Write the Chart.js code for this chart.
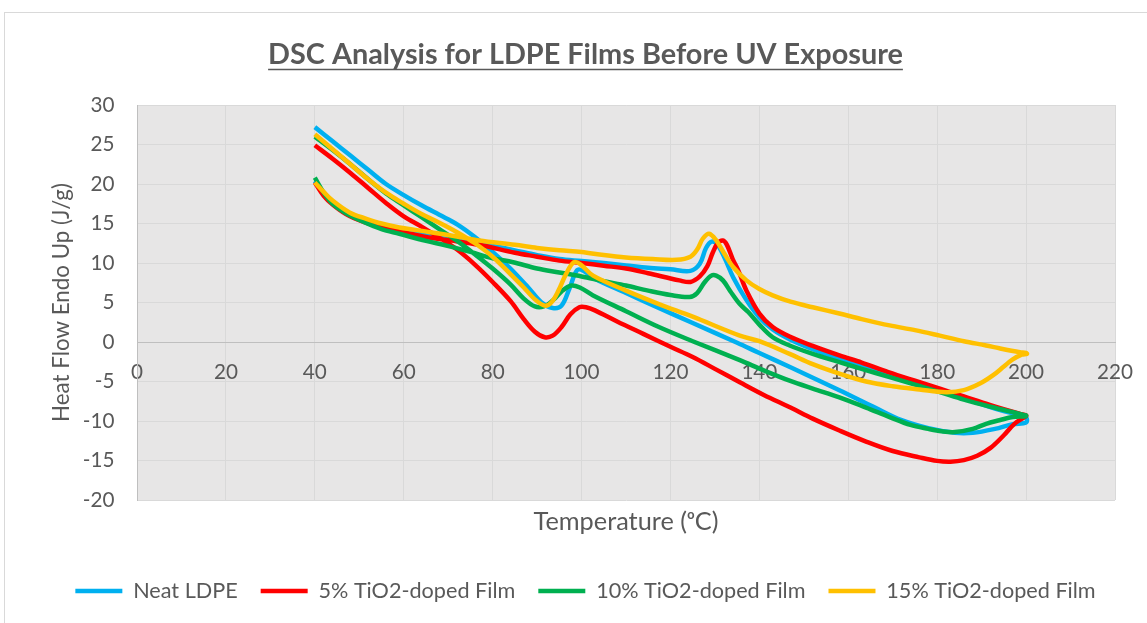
<!DOCTYPE html>
<html><head><meta charset="utf-8">
<script src="https://cdn.jsdelivr.net/npm/chart.js@4.4.1/dist/chart.umd.min.js"></script>
<style>
html,body{margin:0;padding:0;background:#fff;overflow:hidden;width:1147px;height:623px;}
#frame{position:absolute;left:4px;top:12px;width:1200px;height:700px;border:1px solid #d9d9d9;box-sizing:border-box;}
#c{position:absolute;left:0;top:0;}
</style></head><body>
<div id="frame"></div>
<canvas id="c" width="1147" height="623"></canvas>
<script>
// ---------- DATA ----------
const seriesNames = ['Neat LDPE', '5% TiO2-doped Film', '10% TiO2-doped Film', '15% TiO2-doped Film'];
const chartTitle = 'DSC Analysis for LDPE Films Before UV Exposure';
const xAxisTitle = 'Temperature (\u1D52C)';
const yAxisTitle = 'Heat Flow Endo Up (J/g)';
const xRange = [0, 220];
const xStep = 20;
const yRange = [-20, 30];
const yStep = 5;

// Neat LDPE: loop 40 -> 200 -> 40
const neatTemp = [40,44,48,52,56,60,64,68,72,76,80,84,88,91,93.5,95.5,97.3,99,100.5,103,110,117,125,135,140,147,158,166,172,178,184,188,193,197,200,
  200,194,188,180.6,175,169,163,158,152,147,143,140,137.1,134.1,132.3,130.6,129.3,128,126.6,124.5,120,115,110,105,100,95,90,85,80,75,70,65,60,55,51,47,44,42,40];
const neatHeat = [27.2,25.4,23.6,21.8,20.0,18.6,17.3,16.1,14.9,13.3,11.4,9.3,6.9,5.0,4.3,4.6,6.8,9.1,9.0,8.0,6.2,4.4,2.4,-0.1,-1.4,-3.2,-6.1,-8.3,-9.9,-10.9,-11.5,-11.5,-11.0,-10.4,-10.2,
  -9.6,-8.6,-7.5,-6.1,-5.1,-4.2,-3.0,-2.1,-0.9,0.3,1.6,3.1,5.3,8.2,10.5,12.3,12.7,11.9,9.9,9.0,9.2,9.4,9.7,10.0,10.25,10.5,11.0,11.6,12.2,12.6,13.0,13.5,14.0,14.6,15.3,16.3,17.6,18.8,20.4];

// 5% TiO2
const tio5Temp = [40,44,48,52,56,60,64,68,72,76,80,84,87,89.5,91.7,93.5,95.5,97.5,99.5,101,103,108,114,120,125,130,135.6,141,147,152,158,164,170,176,180,183,186,189,192,195,197.5,200,
  200,198.6,192,186,180.6,175,169,163,158,152,146.8,143,140,137.1,135.3,134,132.7,131.8,130.6,129.5,128.3,126.6,124.5,122,115,110,105,100,95,90,85,77,70,65,60,55,51,47,44,42,40];
const tio5Heat = [24.9,23.2,21.4,19.5,17.6,15.9,14.6,13.2,11.7,9.8,7.6,5.2,2.9,1.3,0.6,0.8,1.9,3.5,4.4,4.4,4.0,2.6,1.0,-0.6,-1.9,-3.4,-5.1,-6.7,-8.3,-9.7,-11.2,-12.6,-13.8,-14.6,-15.05,-15.15,-14.95,-14.4,-13.4,-11.8,-10.3,-9.4,
  -9.3,-9.1,-8.0,-6.9,-5.9,-4.9,-3.8,-2.6,-1.7,-0.5,0.7,1.9,3.6,6.5,9.0,10.5,12.3,12.85,12.5,11.3,9.6,8.3,7.6,7.8,8.7,9.3,9.65,10.0,10.3,10.8,11.3,12.3,12.9,13.3,13.9,14.5,15.2,16.2,17.4,18.5,20.2];

// 10% TiO2
const tio10Temp = [40,44,48,52,56,60,64,68,72,76,80,84,87,89.5,91.5,93.6,95.5,97.7,99.6,102.6,110,117.4,125,135.6,141,146.8,152,158,164,169.3,174,178,181,184,188,191,194,197,200,
  200,198.6,192,186,180.6,175,169.3,163,158,152,146.8,143,140,137.5,135.6,133.5,131.8,130.3,129.2,127.6,126,124.3,120,115,110,105,100,95,90,84.6,80,75,69.6,65,59,55,51,47,44,42,40];
const tio10Heat = [26.0,24.3,22.5,20.6,18.8,17.3,15.8,14.3,12.8,11.1,9.3,7.3,5.5,4.5,4.5,5.3,6.4,7.15,6.9,5.9,3.9,1.9,0.1,-2.3,-3.6,-4.9,-5.9,-7.0,-8.3,-9.5,-10.5,-11.0,-11.3,-11.4,-11.0,-10.35,-9.9,-9.5,-9.4,
  -9.3,-9.1,-8.2,-7.3,-6.35,-5.4,-4.45,-3.4,-2.55,-1.5,-0.44,0.6,2.2,3.8,4.8,6.4,7.8,8.4,8.4,7.5,6.2,5.7,5.95,6.5,7.15,7.7,8.3,8.8,9.3,10.1,10.6,11.4,12.2,12.8,13.7,14.3,15.2,16.3,17.5,18.9,20.8];

// 15% TiO2
const tio15Temp = [40,44,48,52,56,60,64,68,72,76,80,84,87,89.5,91.7,93.2,94.8,96.5,98.3,99.8,102.6,110,117.4,125,135.6,140,146.8,152,158,164,170,176,182,186,189.5,192.6,195,197,199,200.2,
  200,198.6,194,191,186,180.6,175,169.3,163,158,152,147,143,140,137.1,134.1,132,130.3,128.7,127.3,126,124.5,121.4,116,110,105,100,95,90,85,77,72.6,66,59,55,51.6,47.8,44,42,40];
const tio15Heat = [26.3,24.4,22.5,20.6,18.9,17.5,16.2,15.1,13.9,12.5,10.8,8.6,6.9,5.4,4.6,5.0,6.5,8.6,10.1,9.8,8.4,6.5,4.8,3.2,0.8,0.1,-1.5,-2.8,-4.0,-5.0,-5.6,-6.0,-6.35,-6.1,-5.3,-4.2,-3.1,-2.2,-1.6,-1.5,
  -1.4,-1.3,-0.8,-0.44,0.1,0.8,1.5,2.1,2.9,3.6,4.4,5.1,5.9,6.7,7.8,9.5,11.3,12.85,13.7,13.1,11.7,10.8,10.4,10.5,10.7,11.0,11.4,11.6,11.9,12.3,12.85,13.3,13.9,14.5,15.0,15.6,16.4,17.9,19.0,20.2];

// ---------- STYLE ----------
const seriesColors = ['#00B0F0', '#FF0000', '#00B050', '#FFC000'];
const TXT = '#595959';
const GRID = '#D9D9D9';
const AXIS = '#BFBFBF';
const PLOT_BG = '#E7E6E6';
const FAMILY = "Lato, 'DejaVu Sans', sans-serif";

const mctx = document.createElement('canvas').getContext('2d');
function fitSize(text, weight, target) {
  mctx.font = (weight ? weight + ' ' : '') + '100px ' + FAMILY;
  return 100 * target / mctx.measureText(text).width;
}
const titleSize = fitSize(chartTitle, 'bold', 635);
const yTitleSize = fitSize(yAxisTitle, '', 239);
const xTitleSize = fitSize(xAxisTitle, '', 185);
const legendSize = fitSize('5% TiO2-doped Film', '', 197);
const tickSize = fitSize('200', '', 36);

// layout targets (pixels)
const padLeft = 24;
const plotLeft = 137, plotRight = 1115, plotTop = 105, plotBottom = 499;
const titleCenterY = 55;
const legendCenterY = 591, legendPad = 24;
const tLH = titleSize * 1.2;
const titlePadTop = titleCenterY - tLH / 2;
const titlePadBottom = plotTop - titleCenterY - tLH / 2;
const legendH = legendSize + legendPad + 10;
const legendTop = legendCenterY - legendPad - legendSize / 2;
const bottomPad = 623 - (legendTop + legendH);
const x2H = legendTop - plotBottom;
const xTitleCenterY = 521;
const xTitlePadBottom = legendTop - xTitleCenterY - xTitleSize * 1.2 / 2;
const yTitleCenterX = 62;
const yTitlePadTop = yTitleCenterX - padLeft - yTitleSize * 1.2 / 2;
const zeroY = plotTop + (plotBottom - plotTop) * 30 / 50;
const xTickPad = 372 - zeroY - tickSize * 1.2 / 2;

function pts(t, h) { return t.map((x, i) => ({x: x, y: h[i]})); }
const temps = [neatTemp, tio5Temp, tio10Temp, tio15Temp];
const heats = [neatHeat, tio5Heat, tio10Heat, tio15Heat];

const datasets = seriesNames.map((name, i) => ({
  label: name,
  data: pts(temps[i], heats[i]),
  borderColor: seriesColors[i],
  backgroundColor: seriesColors[i],
  borderWidth: 4.5,
  pointRadius: 0,
  pointHoverRadius: 0,
  showLine: true,
  tension: 0.35,
  fill: false,
  order: seriesNames.length - i
}));

const bgPlugin = {
  id: 'plotBg',
  beforeDraw(chart) {
    const a = chart.chartArea, c = chart.ctx;
    c.save(); c.fillStyle = PLOT_BG; c.fillRect(a.left, a.top, a.right - a.left, a.bottom - a.top); c.restore();
  }
};
const underlinePlugin = {
  id: 'titleUnderline',
  afterDraw(chart) {
    const tb = chart.titleBlock; if (!tb) return;
    const c = chart.ctx;
    c.save();
    c.font = 'bold ' + titleSize + 'px ' + FAMILY;
    const w = c.measureText(chartTitle).width;
    const cx = (tb.left + tb.right) / 2;
    const cy = tb.top + titlePadTop + tLH / 2;
    const y = cy + titleSize * 0.5;
    c.strokeStyle = TXT; c.lineWidth = 1.6;
    c.beginPath(); c.moveTo(cx - w / 2, y); c.lineTo(cx + w / 2, y); c.stroke();
    c.restore();
  }
};

new Chart(document.getElementById('c'), {
  type: 'scatter',
  data: { datasets: datasets },
  options: {
    responsive: false,
    animation: false,
    devicePixelRatio: 1,
    events: [],
    layout: { padding: { left: padLeft, top: 0, right: 0, bottom: bottomPad } },
    plugins: {
      title: { display: true, text: chartTitle, color: TXT,
        font: { family: FAMILY, size: titleSize, weight: 'bold', lineHeight: 1.2 },
        padding: { top: titlePadTop, bottom: titlePadBottom } },
      legend: { position: 'bottom',
        labels: { color: TXT, font: { family: FAMILY, size: legendSize }, usePointStyle: true, pointStyle: 'line',
          pointStyleWidth: 47, padding: 23, sort: (a, b) => a.datasetIndex - b.datasetIndex } },
      tooltip: { enabled: false }
    },
    scales: {
      x: { type: 'linear', axis: 'x', position: { y: 0 }, min: xRange[0], max: xRange[1],
        ticks: { stepSize: xStep, padding: xTickPad, color: TXT, font: { family: FAMILY, size: tickSize }, autoSkip: false, maxRotation: 0 },
        grid: { display: false, drawTicks: false },
        border: { display: true, color: AXIS, width: 1 },
        afterFit: (s) => { s.paddingLeft = 0; s.paddingRight = 0; } },
      x2: { type: 'linear', axis: 'x', position: 'bottom', min: xRange[0], max: xRange[1],
        ticks: { display: false, stepSize: xStep },
        grid: { color: GRID, drawTicks: false },
        border: { display: false },
        title: { display: true, text: xAxisTitle, color: TXT, font: { family: FAMILY, size: xTitleSize, lineHeight: 1.2 },
          padding: { top: 0, bottom: xTitlePadBottom } },
        afterFit: (s) => { s.height = x2H; s.paddingLeft = 0; s.paddingRight = 0; } },
      y: { type: 'linear', axis: 'y', position: 'left', min: yRange[0], max: yRange[1],
        ticks: { stepSize: yStep, padding: 22.5, color: TXT, font: { family: FAMILY, size: tickSize } },
        grid: { color: GRID, drawTicks: false },
        border: { display: true, color: AXIS, width: 1 },
        title: { display: true, text: yAxisTitle, color: TXT, font: { family: FAMILY, size: yTitleSize, lineHeight: 1.2 },
          padding: { top: yTitlePadTop, bottom: 0 } },
        afterFit: (s) => { s.width = plotLeft - padLeft; } },
      yr: { type: 'linear', axis: 'y', position: 'right', min: yRange[0], max: yRange[1],
        ticks: { display: false }, grid: { display: false, drawTicks: false }, border: { display: false },
        afterFit: (s) => { s.width = 1147 - plotRight; } }
    }
  },
  plugins: [bgPlugin, underlinePlugin]
});
</script>
</body></html>
